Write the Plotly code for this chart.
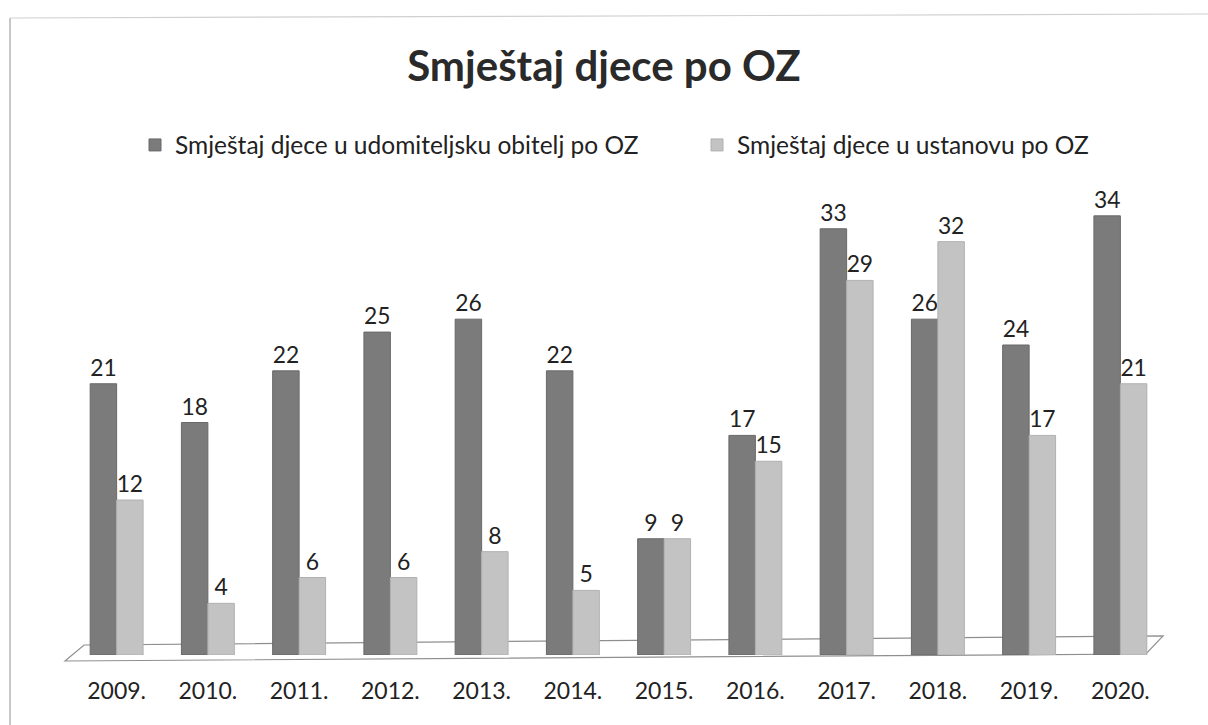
import plotly.graph_objects as go

years = ["2009.", "2010.", "2011.", "2012.", "2013.", "2014.", "2015.", "2016.", "2017.", "2018.", "2019.", "2020."]
udomiteljska = [21, 18, 22, 25, 26, 22, 9, 17, 33, 26, 24, 34]
ustanova = [12, 4, 6, 6, 8, 5, 9, 15, 29, 32, 17, 21]

name_a = "Smještaj djece u udomiteljsku obitelj po OZ"
name_b = "Smještaj djece u ustanovu po OZ"

FONT = "Lato"
W, H = 1208, 725
ML, MR, MT, MB = 71, 42, 190, 70


def px(xp, yp):
    """convert picture pixel to paper coords"""
    return (xp - ML) / (W - ML - MR), (H - MB - yp) / (H - MT - MB)


fig = go.Figure()
fig.add_trace(go.Bar(
    x=years, y=udomiteljska, name=name_a, legend="legend",
    marker=dict(color="#7b7b7b", line=dict(color="#696969", width=1)),
    text=udomiteljska, textposition="outside", cliponaxis=False,
    textfont=dict(size=23, color="#222222", family=FONT),
))
fig.add_trace(go.Bar(
    x=years, y=ustanova, name=name_b, legend="legend2",
    marker=dict(color="#c3c3c3", line=dict(color="#b0b0b0", width=1)),
    text=ustanova, textposition="outside", cliponaxis=False,
    textfont=dict(size=23, color="#222222", family=FONT),
))

# floor plane (decorative)
pts = [px(65, 661), px(84, 645), px(1163, 636), px(1146, 654)]
path = "M " + " L ".join(f"{a:.4f} {b:.4f}" for a, b in pts) + " Z"
fig.add_shape(type="path", xref="paper", yref="paper", path=path,
              line=dict(color="#8f8f8f", width=1.2), fillcolor="rgba(0,0,0,0)", layer="below")

# scanned page frame (decorative)
fig.add_shape(type="line", xref="paper", yref="paper",
              x0=px(10, 18)[0], y0=px(10, 18)[1], x1=px(10, 725)[0], y1=px(10, 725)[1],
              line=dict(color="#b5b5b5", width=1.5))
fig.add_shape(type="line", xref="paper", yref="paper",
              x0=px(10, 18)[0], y0=px(10, 18)[1], x1=px(1208, 14)[0], y1=px(1208, 14)[1],
              line=dict(color="#d0d0d0", width=1.2))

fig.update_layout(
    width=W, height=H,
    paper_bgcolor="white", plot_bgcolor="white",
    font=dict(family=FONT, color="#222222"),
    title=dict(text="<b>Smještaj djece po OZ</b>", x=0.5, xanchor="center",
               y=0.909, yanchor="middle", font=dict(size=42, color="#2a2a2a", family=FONT)),
    legend=dict(orientation="h", xref="container", yref="container",
                x=135 / W, xanchor="left", y=1 - 145 / H, yanchor="middle",
                font=dict(size=24.5, color="#222222", family=FONT), itemwidth=30,
                bgcolor="rgba(0,0,0,0)"),
    legend2=dict(orientation="h", xref="container", yref="container",
                 x=697 / W, xanchor="left", y=1 - 145 / H, yanchor="middle",
                 font=dict(size=24.5, color="#222222", family=FONT), itemwidth=30,
                 bgcolor="rgba(0,0,0,0)"),
    barmode="group", bargap=0.42, bargroupgap=0.0,
    margin=dict(l=ML, r=MR, t=MT, b=MB),
    showlegend=True,
)
fig.update_xaxes(showgrid=False, showline=False, ticks="", ticklabelstandoff=20,
                 tickfont=dict(size=23, color="#222222", family=FONT))
fig.update_yaxes(range=[0, 36], showgrid=False, showticklabels=False, zeroline=False, showline=False)

fig.write_html("out.html", config={"displayModeBar": False},
               post_script="document.body.style.margin='0';")
